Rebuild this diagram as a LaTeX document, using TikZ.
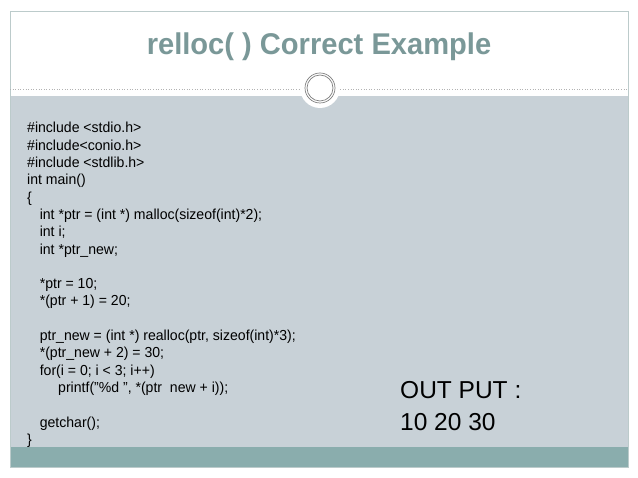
\documentclass[tikz,border=0pt]{standalone}
\usepackage{fontspec}
\setmainfont{Liberation Sans}
\begin{document}
\begin{tikzpicture}[x=1pt,y=-1pt,
 code/.style={anchor=base west,inner sep=0,font=\fontsize{14.5}{16}\selectfont,xscale=0.97},
 outp/.style={anchor=base west,inner sep=0,font=\fontsize{24.5}{28}\selectfont}]
\useasboundingbox (0,0) rectangle (638,478);
\definecolor{body}{HTML}{C8D1D7}
\definecolor{band}{HTML}{8AADAD}
\definecolor{ttl}{HTML}{7A9898}
\fill[white] (0,0) rectangle (638,478);
\fill[body] (10,96) rectangle (628,447);
\fill[band] (10,447) rectangle (628,467);
\draw[ttl!50,line width=0.6] (10,11) rectangle (628,467);
\draw[gray!60,dotted,line width=0.6] (10,89) -- (628,89);
\fill[white] (320,88) circle (20);
\draw[gray,line width=0.7] (320,88) circle (15);
\draw[gray,line width=0.7] (320,88) circle (13);
\node[font=\bfseries\fontsize{30}{34}\selectfont,text=ttl,xscale=0.97] (t) at (319,47) {relloc( ) Correct Example};
\foreach \i/\s in {0/{\#include <stdio.h>},1/{\#include<conio.h>},2/{\#include <stdlib.h>},3/{int main()},4/{\{},
 5/{\hspace{13pt}int *ptr = (int *) malloc(sizeof(int)*2);},6/{\hspace{13pt}int i;},7/{\hspace{13pt}int *ptr\_new;},
 9/{\hspace{13pt}*ptr = 10;},10/{\hspace{13pt}*(ptr + 1) = 20;},
 12/{\hspace{13pt}ptr\_new = (int *) realloc(ptr, sizeof(int)*3);},13/{\hspace{13pt}*(ptr\_new + 2) = 30;},
 14/{\hspace{13pt}for(i = 0; i < 3; i++)},15/{\hspace{32pt}printf("\%d ", *(ptr\ \ new + i));},
 17/{\hspace{13pt}getchar();},18/{\}}}
  \node[code] (c\i) at (27,{133+\i*17.3}) {\s};
\node[outp] (o1) at (400,399) {OUT PUT :};
\node[outp] (o2) at (400,431) {10 20 30};
\end{tikzpicture}
\end{document}
